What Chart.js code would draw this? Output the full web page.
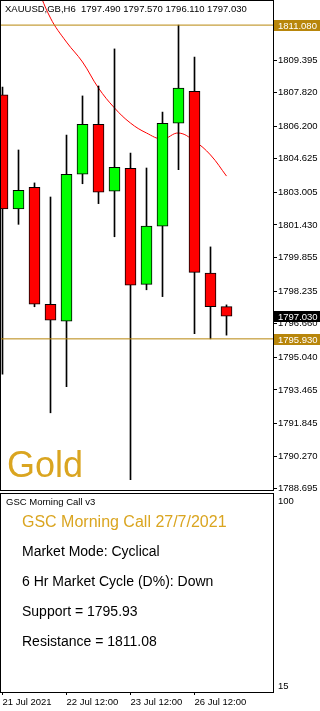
<!DOCTYPE html>
<html>
<head>
<meta charset="utf-8">
<script src="https://cdn.jsdelivr.net/npm/chart.js@4.4.1/dist/chart.umd.min.js"></script>
<style>
html, body { margin: 0; padding: 0; background: #fff; }
canvas { display: block; }
</style>
</head>
<body>
<canvas id="mainChart" width="320" height="491"></canvas>
<canvas id="cycleChart" width="320" height="220"></canvas>
<script>
// XAUUSD H6 candles
const candleOpen  = [1807.71, 1802.20, 1803.25, 1797.60, 1796.78, 1803.88, 1806.29, 1803.06, 1804.17, 1798.56, 1801.37, 1806.34, 1807.88, 1799.11, 1797.49];
const candleHigh  = [1808.09, 1805.05, 1803.46, 1802.78, 1805.77, 1807.66, 1808.14, 1809.93, 1804.90, 1804.18, 1806.88, 1811.08, 1809.54, 1800.37, 1797.57];
const candleLow   = [1794.23, 1801.46, 1797.48, 1792.36, 1793.62, 1803.42, 1802.46, 1800.86, 1789.13, 1798.30, 1797.97, 1804.10, 1796.18, 1795.93, 1796.11];
const candleClose = [1802.20, 1803.10, 1797.60, 1796.83, 1803.88, 1806.29, 1803.01, 1804.21, 1798.52, 1801.37, 1806.34, 1808.04, 1799.14, 1797.49, 1797.03];
// red moving average
const maValues = [null, null, 1813.26, 1811.42, 1810.26, 1809.30, 1808.04, 1807.08, 1806.35, 1805.87, 1805.58, 1805.87, 1805.48, 1804.81, 1803.79];

const priceTicks = [1810.970, 1809.395, 1807.820, 1806.200, 1804.625, 1803.005, 1801.430, 1799.855, 1798.235, 1796.660, 1795.040, 1793.465, 1791.845, 1790.270, 1788.695];
const dateTickIdx = [0, 4, 8, 12];
const dateLabels = ['21 Jul 2021', '22 Jul 12:00', '23 Jul 12:00', '26 Jul 12:00'];
const cycleTicks = [100, 15];

const resistanceLevel = 1811.08;
const supportLevel = 1795.93;
const symbolLabel = 'XAUUSD,GB,H6';
const infoTitle = 'GSC Morning Call 27/7/2021';
const infoLines = ['Market Mode: Cyclical', '6 Hr Market Cycle (D%): Down', 'Support = ' + supportLevel.toFixed(2), 'Resistance = ' + resistanceLevel.toFixed(2)];

const last = candleClose.length - 1;
const axisFamily = "'Liberation Sans', Arial, sans-serif";
const axisSize = 9.5;
const axisFont = axisSize + "px " + axisFamily;
const levelColor = '#b8860b';
const goldText = '#daa520';
const xMin = -0.09375, xMax = 16.90625;

const idx = candleClose.map((c, i) => i);

// keep the axes from pushing the plot area in
function noPad(s) {
  s.paddingTop = 0; s.paddingBottom = 0; s.paddingLeft = 0; s.paddingRight = 0;
}

// frame round the plot area
const framePlugin = {
  id: 'frame',
  afterDraw(chart) {
    const { ctx, chartArea: a } = chart;
    ctx.save();
    ctx.strokeStyle = '#000';
    ctx.lineWidth = 1;
    ctx.strokeRect(a.left - 0.5, a.top - 0.5, a.right - a.left + 1, a.bottom - a.top + 1);
    ctx.restore();
  }
};

// header, "Gold" and the price boxes on the right axis
const mainOverlay = {
  id: 'mainOverlay',
  afterDraw(chart) {
    const { ctx, chartArea: a, scales: { y } } = chart;
    ctx.save();
    ctx.font = axisFont;
    ctx.textBaseline = 'middle';
    ctx.fillStyle = '#000';
    const hdr = symbolLabel + '  ' + [candleOpen[last], candleHigh[last], candleLow[last], candleClose[last]].map(v => v.toFixed(3)).join(' ');
    ctx.fillText(hdr, 5, 9);

    [[resistanceLevel, levelColor], [candleClose[last], '#000'], [supportLevel, levelColor]].forEach(([v, c]) => {
      const py = Math.round(y.getPixelForValue(v));
      ctx.fillStyle = c;
      ctx.fillRect(a.right + 1, py - 5, 46, 11);
      ctx.fillStyle = '#fff';
      ctx.fillText(v.toFixed(3), a.right + 5, py + 1);
    });

    ctx.font = "36px 'Liberation Sans', Arial, sans-serif";
    ctx.fillStyle = goldText;
    ctx.textBaseline = 'alphabetic';
    ctx.fillText('Gold', 7, 477);
    ctx.restore();
  }
};

new Chart(document.getElementById('mainChart'), {
  type: 'bar',
  data: {
    datasets: [
      {
        type: 'line',
        data: idx.map(i => ({ x: i, y: maValues[i] })),
        borderColor: '#ff0000',
        borderWidth: 1,
        pointRadius: 0,
        tension: 0.4,
        order: 3
      },
      {
        data: idx.map(i => ({ x: i, y: [candleLow[i], candleHigh[i]] })),
        backgroundColor: '#000',
        barThickness: 1,
        grouped: false,
        order: 2
      },
      {
        data: idx.map(i => ({ x: i, y: [candleOpen[i], candleClose[i]] })),
        backgroundColor: idx.map(i => candleClose[i] >= candleOpen[i] ? '#00ff00' : '#ff0000'),
        borderColor: '#000',
        borderWidth: 1,
        borderSkipped: false,
        barThickness: 11,
        grouped: false,
        order: 1
      },
      {
        type: 'line',
        data: [{ x: xMin, y: resistanceLevel }, { x: xMax, y: resistanceLevel }],
        borderColor: levelColor,
        borderWidth: 1,
        pointRadius: 0,
        order: 0
      },
      {
        type: 'line',
        data: [{ x: xMin, y: supportLevel }, { x: xMax, y: supportLevel }],
        borderColor: levelColor,
        borderWidth: 1,
        pointRadius: 0,
        order: 0
      }
    ]
  },
  options: {
    responsive: false,
    animation: false,
    layout: { autoPadding: false, padding: { left: 1, top: 1, bottom: 1, right: 0 } },
    plugins: { legend: { display: false }, tooltip: { enabled: false } },
    scales: {
      x: { type: 'linear', min: xMin, max: xMax, offset: false, display: false },
      y: {
        position: 'right',
        min: 1788.632,
        max: 1812.244,
        afterBuildTicks: s => { s.ticks = priceTicks.map(v => ({ value: v })); },
        afterFit: s => { s.width = 47; noPad(s); },
        ticks: {
          callback: v => v.toFixed(3),
          color: '#000',
          padding: 1,
          font: { family: axisFamily, size: axisSize }
        },
        grid: { drawOnChartArea: false, tickLength: 4, color: '#000' },
        border: { display: true, color: '#000' }
      }
    }
  },
  plugins: [framePlugin, mainOverlay]
});

// lower indicator window
const cycleOverlay = {
  id: 'cycleOverlay',
  afterDraw(chart) {
    const { ctx } = chart;
    ctx.save();
    ctx.textBaseline = 'middle';
    ctx.fillStyle = '#000';
    ctx.font = "9.5px 'Liberation Sans', Arial, sans-serif";
    ctx.fillText('GSC Morning Call v3', 6, 11);
    ctx.font = "16px 'Liberation Sans', Arial, sans-serif";
    ctx.fillStyle = goldText;
    ctx.fillText(infoTitle, 22, 32);
    ctx.font = "14px 'Liberation Sans', Arial, sans-serif";
    ctx.fillStyle = '#000';
    infoLines.forEach((t, k) => ctx.fillText(t, 22, 61 + k * 30));
    ctx.restore();
  }
};

new Chart(document.getElementById('cycleChart'), {
  type: 'scatter',
  data: { datasets: [] },
  options: {
    responsive: false,
    animation: false,
    layout: { autoPadding: false, padding: { left: 1, top: 3, bottom: 0, right: 0 } },
    plugins: { legend: { display: false }, tooltip: { enabled: false } },
    scales: {
      x: {
        type: 'linear',
        min: xMin,
        max: xMax,
        offset: false,
        afterBuildTicks: s => { s.ticks = dateTickIdx.map(v => ({ value: v })); },
        afterFit: s => { s.height = 19; noPad(s); },
        ticks: {
          callback: v => dateLabels[dateTickIdx.indexOf(v)],
          align: 'start',
          maxRotation: 0,
          autoSkip: false,
          color: '#000',
          padding: 2,
          font: { family: axisFamily, size: axisSize }
        },
        grid: { drawOnChartArea: false, tickLength: 3, color: '#000' },
        border: { display: true, color: '#000' }
      },
      y: {
        position: 'right',
        min: 12.243,
        max: 103.216,
        afterBuildTicks: s => { s.ticks = cycleTicks.map(v => ({ value: v })); },
        afterFit: s => { s.width = 47; noPad(s); },
        ticks: {
          color: '#000',
          padding: 5,
          font: { family: axisFamily, size: axisSize }
        },
        grid: { drawOnChartArea: false, drawTicks: false },
        border: { display: true, color: '#000' }
      }
    }
  },
  plugins: [framePlugin, cycleOverlay]
});
</script>
</body>
</html>
